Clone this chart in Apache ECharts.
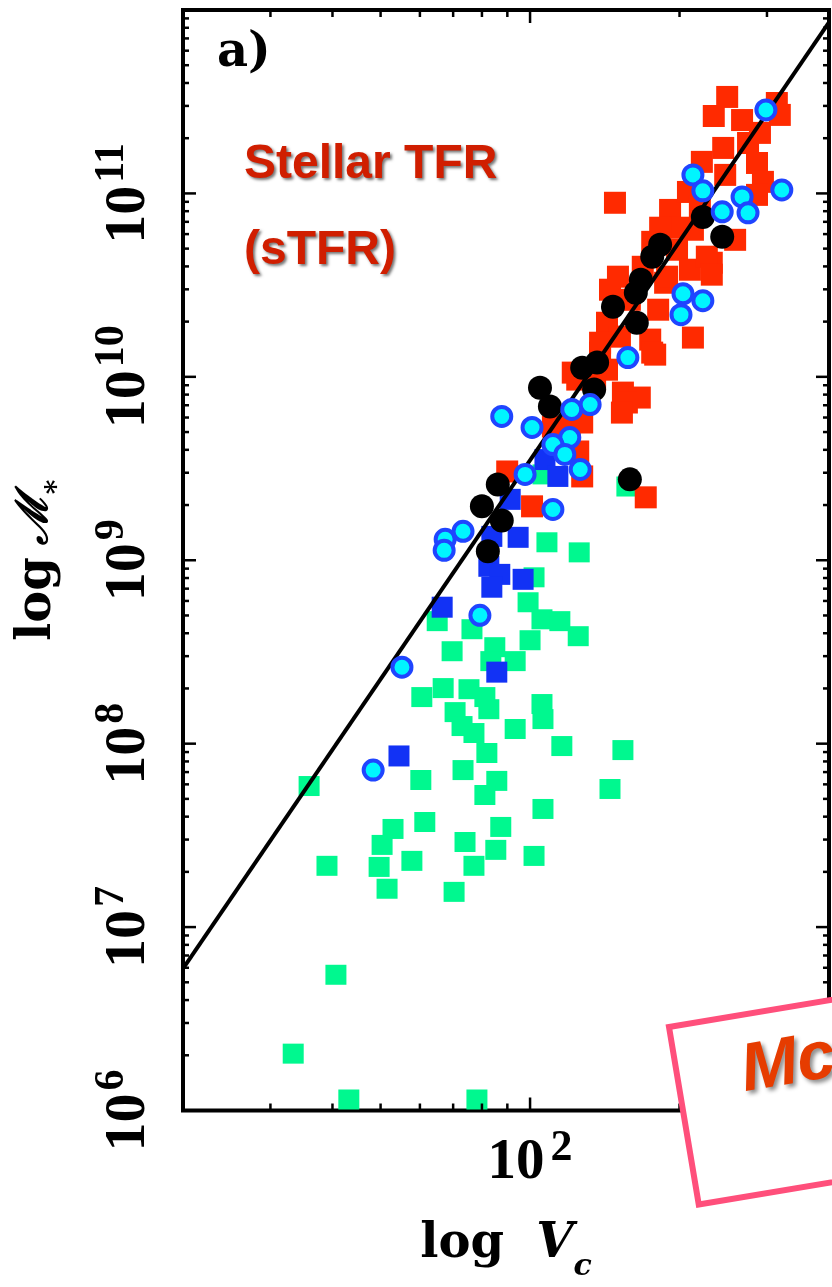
<!DOCTYPE html>
<html><head><meta charset="utf-8">
<script src="https://cdn.jsdelivr.net/npm/echarts@6/dist/echarts.min.js"></script>
<style>html,body{margin:0;padding:0;background:#fff;}#c{width:832px;height:1287px;}</style>
</head><body><div id="c"></div>
<script>
// ---- data (log10 V_c [km/s], log10 M* [Msun]) ----
const redLogV = [2.397,2.370,2.497,2.503,2.463,2.439,2.389,2.346,2.457,2.469,2.171,2.282,2.318,2.342,2.457,2.328,2.246,2.413,2.366,2.296,2.322,2.177,2.227,2.272,2.161,2.258,2.155,2.181,2.328,2.356,2.366,2.276,2.242,2.141,2.246,2.086,2.155,2.187,2.221,2.131,2.195,2.185,2.095,2.080,2.097,2.105,2.233,2.046,1.954,2.004,2.105,2.252,2.141,2.201,2.302,2.393,2.427,2.262];
const redLogM = [11.526,11.422,11.493,11.428,11.330,11.275,11.248,11.172,11.166,11.063,10.949,10.910,11.008,10.927,10.992,10.802,10.736,10.747,10.622,10.693,10.584,10.546,10.600,10.513,10.475,10.366,10.295,10.219,10.214,10.655,10.557,10.546,10.203,10.132,10.132,10.023,10.039,9.914,9.887,9.985,9.860,9.805,9.985,9.729,9.593,9.457,9.343,9.729,9.484,9.294,9.751,10.121,10.186,10.420,10.813,11.101,11.400,10.813];

const greenLogV = [1.555,1.591,1.609,1.523,1.635,1.893,1.780,1.865,1.913,1.933,1.909,2.064,2.187,2.161,2.026,1.941,1.788,1.724,1.702,1.762,1.696,1.712,1.869,1.931,1.887,2.008,1.847,2.034,2.099,2.008,1.996,1.813,1.883,2.024,2.060,2.097,2.000,1.843,1.929,1.921,1.970,1.782,1.825,1.877,1.909,1.849,1.863,1.917,2.024,2.026,1.970,1.887,2.195,2.026];
const greenLogM = [7.769,7.334,6.740,6.310,6.060,6.060,7.802,7.856,7.949,7.797,7.720,7.987,7.965,7.753,7.644,7.546,7.573,7.535,7.448,7.361,7.328,7.209,7.464,7.421,7.334,7.388,7.192,9.098,9.043,8.907,8.771,8.668,8.624,8.678,8.668,8.586,8.564,8.504,8.526,8.450,8.450,8.254,8.303,8.297,8.254,8.172,8.096,8.188,8.216,8.134,8.080,8.058,9.402,9.468];

const blueLogV = [1.736,1.823,1.933,1.917,1.939,1.923,1.986,1.976,1.923,1.960,2.030,2.056];
const blueLogM = [7.933,8.744,8.390,8.967,8.923,8.853,8.896,9.125,9.130,9.332,9.549,9.457];

const cyanLogV = [1.684,1.742,1.899,1.829,1.827,1.865,1.943,2.004,2.084,2.121,2.080,2.046,2.070,2.101,1.990,2.046,2.197,2.328,2.348,2.387,2.427,2.439,2.308,2.348,2.304,2.475,2.507];
const cyanLogM = [7.856,8.417,8.700,9.114,9.054,9.158,9.784,9.724,9.822,9.849,9.669,9.631,9.577,9.495,9.468,9.277,10.105,11.101,11.014,10.900,10.981,10.894,10.453,10.415,10.339,11.455,11.019];

const blackLogV = [2.348,2.387,2.262,2.246,2.223,2.213,2.167,2.215,2.105,2.135,2.129,2.020,2.040,1.935,1.903,1.943,1.915,2.201];
const blackLogM = [10.872,10.764,10.720,10.655,10.529,10.459,10.382,10.295,10.050,10.078,9.931,9.941,9.838,9.413,9.294,9.217,9.049,9.441];

// sTFR fit line end points
const lineLogV = [1.301, 2.602];
const lineLogM = [6.773, 11.933];

// axes
const xMin = 20, xMax = 400, yMin = 1e6, yMax = 1e12;
const xLabelValues = [100];
const yLabelValues = [1e6, 1e7, 1e8, 1e9, 1e10, 1e11];
const xMajorTicks = [100];
const xMinorTicks = [30, 40, 50, 60, 70, 80, 90, 200, 300];
const yMajorTicks = [1e6, 1e7, 1e8, 1e9, 1e10, 1e11];
const yMinorMult = [2, 3, 4, 5, 6, 7, 8, 9];

// ---- build ----
function pts(lv, lm) { return lv.map((v, i) => [Math.pow(10, v), Math.pow(10, lm[i])]); }
function expOf(v, list) {
  for (const t of list) { if (Math.abs(Math.log10(v) - Math.log10(t)) < 1e-4) return Math.round(Math.log10(t)); }
  return null;
}
const xTickData = xMinorTicks.map(v => [v, yMin, 0]).concat(xMajorTicks.map(v => [v, yMin, 1]));
const yTickData = [];
yMajorTicks.forEach(d => {
  yTickData.push([xMin, d, 1]);
  yMinorMult.forEach(m => yTickData.push([xMin, d * m, 0]));
});

const serifB = 'Liberation Serif';
const chart = echarts.init(document.getElementById('c'), null, {renderer: 'canvas'});
chart.setOption({
  animation: false,
  backgroundColor: '#fff',
  grid: {left: 183, right: 3, top: 10, bottom: 175, show: true, borderColor: '#000', borderWidth: 4, backgroundColor: 'transparent'},
  xAxis: {
    type: 'log', logBase: 10, min: xMin, max: xMax,
    axisLine: {show: false}, axisTick: {show: false}, splitLine: {show: false}, minorTick: {show: false},
    axisLabel: {
      margin: 16, color: '#000',
      formatter: v => { const e = expOf(v, xLabelValues); return e === null ? '' : '{a|10}{b|' + e + '}'; },
      rich: {
        a: {fontFamily: serifB, fontWeight: 'bold', fontSize: 57, lineHeight: 56, padding: [18, 0, 0, 0], color: '#000'},
        b: {fontFamily: serifB, fontWeight: 'bold', fontSize: 44, lineHeight: 40, verticalAlign: 'top', padding: [0, 0, 0, 6], color: '#000'}
      }
    },
    name: '{l|log}{v|V}{c|c}', nameLocation: 'middle', nameGap: 110,
    nameTextStyle: {
      rich: {
        l: {fontFamily: 'DejaVu Serif', fontWeight: 'bold', fontSize: 48, lineHeight: 56, verticalAlign: 'top', padding: [0, 32, 0, 0], color: '#000'},
        v: {fontFamily: 'DejaVu Serif', fontWeight: 'bold', fontStyle: 'italic', fontSize: 48, lineHeight: 56, verticalAlign: 'top', color: '#000'},
        c: {fontFamily: 'DejaVu Serif', fontWeight: 'bold', fontStyle: 'italic', fontSize: 30, lineHeight: 30, padding: [37, 0, 0, 0], color: '#000'}
      }
    }
  },
  yAxis: {
    type: 'log', logBase: 10, min: yMin, max: yMax,
    axisLine: {show: false}, axisTick: {show: false}, splitLine: {show: false}, minorTick: {show: false},
    axisLabel: {
      rotate: 90, margin: 36, color: '#000',
      formatter: v => { const e = expOf(v, yLabelValues); return e === null ? '' : '{a|10}{b|' + e + '}'; },
      rich: {
        a: {fontFamily: serifB, fontWeight: 'bold', fontSize: 58, lineHeight: 56, padding: [20, 0, 0, 0], color: '#000'},
        b: {fontFamily: serifB, fontWeight: 'bold', fontSize: 42, lineHeight: 40, verticalAlign: 'top', padding: [0, 0, 0, 3], color: '#000'}
      }
    },
    name: '{l|log}{m|ℳ}{s|*}', nameLocation: 'middle', nameRotate: 90, nameGap: 103,
    nameTextStyle: {
      rich: {
        l: {fontFamily: 'DejaVu Serif', fontWeight: 'bold', fontSize: 48, lineHeight: 56, verticalAlign: 'top', padding: [0, 12, 0, 0], color: '#000'},
        m: {fontFamily: 'DejaVu Serif', fontWeight: 'bold', fontStyle: 'italic', fontSize: 44, lineHeight: 56, verticalAlign: 'top', color: '#000'},
        s: {fontFamily: 'DejaVu Serif', fontWeight: 'bold', fontSize: 28, lineHeight: 28, padding: [34, 0, 0, 0], color: '#000'}
      }
    }
  },
  series: [
    {name: 'dwarfs', type: 'scatter', z: 2, symbol: 'rect', symbolSize: [21, 20], itemStyle: {color: '#00f88f', opacity: 1}, data: pts(greenLogV, greenLogM)},
    {name: 'spirals', type: 'scatter', z: 3, symbol: 'rect', symbolSize: 22, itemStyle: {color: '#ff2a00', opacity: 1}, data: pts(redLogV, redLogM)},
    {name: 'blue', type: 'scatter', z: 4, symbol: 'rect', symbolSize: 21, itemStyle: {color: '#1232f5', opacity: 1}, data: pts(blueLogV, blueLogM)},
    {name: 'fit', type: 'line', z: 5, symbol: 'none', lineStyle: {color: '#000', width: 4}, data: pts(lineLogV, lineLogM)},
    {name: 'black', type: 'scatter', z: 6, symbol: 'circle', symbolSize: 24, itemStyle: {color: '#000', opacity: 1}, data: pts(blackLogV, blackLogM)},
    {name: 'cyan', type: 'scatter', z: 7, symbol: 'circle', symbolSize: 19, itemStyle: {color: '#00f5ff', borderColor: '#1f45ff', borderWidth: 4, opacity: 1}, data: pts(cyanLogV, cyanLogM)},
    {
      name: 'xticks', type: 'custom', z: 8, silent: true, data: xTickData,
      renderItem: (params, api) => {
        const cs = params.coordSys;
        const px = api.coord([api.value(0), api.value(1)])[0];
        const len = api.value(2) ? 13 : 7;
        const b = cs.y + cs.height, t = cs.y;
        return {type: 'group', children: [
          {type: 'line', shape: {x1: px, y1: b, x2: px, y2: b - len}, style: {stroke: '#000', lineWidth: 2.5}},
          {type: 'line', shape: {x1: px, y1: t, x2: px, y2: t + len}, style: {stroke: '#000', lineWidth: 2.5}}
        ]};
      }
    },
    {
      name: 'yticks', type: 'custom', z: 8, silent: true, data: yTickData,
      renderItem: (params, api) => {
        const cs = params.coordSys;
        const py = api.coord([api.value(0), api.value(1)])[1];
        const len = api.value(2) ? 13 : 6;
        const l = cs.x, r = cs.x + cs.width;
        return {type: 'group', children: [
          {type: 'line', shape: {x1: l, y1: py, x2: l + len, y2: py}, style: {stroke: '#000', lineWidth: 2.5}},
          {type: 'line', shape: {x1: r, y1: py, x2: r - len, y2: py}, style: {stroke: '#000', lineWidth: 2.5}}
        ]};
      }
    }
  ],
  graphic: [
    {type: 'text', z: 20, left: 217, top: 30, style: {text: 'a)', font: 'bold 48px "DejaVu Serif"', fill: '#000'}},
    {type: 'text', z: 20, style: {x: 244, y: 165, text: 'Stellar TFR', font: 'bold 48px "Liberation Sans"', fill: '#d01e00', textVerticalAlign: 'middle', textShadowColor: 'rgba(0,0,0,0.55)', textShadowBlur: 3, textShadowOffsetX: 2, textShadowOffsetY: 2}},
    {type: 'text', z: 20, style: {x: 244, y: 251, text: '(sTFR)', font: 'bold 48px "Liberation Sans"', fill: '#d01e00', textVerticalAlign: 'middle', textShadowColor: 'rgba(0,0,0,0.55)', textShadowBlur: 3, textShadowOffsetX: 2, textShadowOffsetY: 2}},
    {
      type: 'group', z: 30, x: 669, y: 1027, rotation: 0.166,
      children: [
        {type: 'rect', z: 30, shape: {x: 0, y: 0, width: 420, height: 180}, style: {fill: '#fff', stroke: '#ff4f7b', lineWidth: 6}},
        {type: 'text', z: 31, style: {x: 64, y: 57, text: 'Mc', font: 'italic bold 68px "Liberation Sans"', fill: '#e63c00', textVerticalAlign: 'middle', textShadowColor: 'rgba(0,0,0,0.45)', textShadowBlur: 4, textShadowOffsetX: 3, textShadowOffsetY: 3}}
      ]
    }
  ]
});
</script>
</body></html>
